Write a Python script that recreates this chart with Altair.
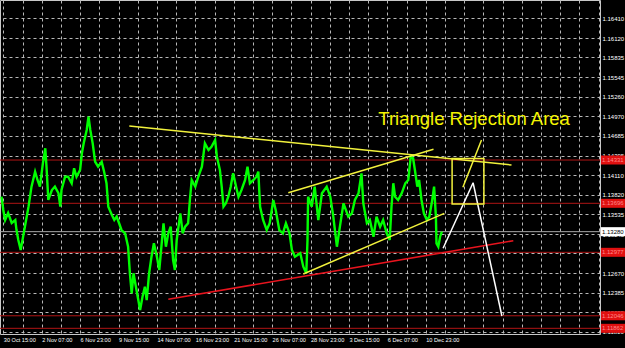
import altair as alt
import pandas as pd

# ---------------- data ----------------
# bar index (H1 bars, 0 = 30 Oct 15:00) and price of the green price trace
bars = [-3, 0, 3, 8, 14, 20, 22, 25, 29, 32, 36, 42, 47, 53, 57, 61, 66, 70, 72, 75,
        81, 86, 92, 95, 97, 103, 108, 114, 118, 122, 128, 131, 134, 139, 142, 145, 149, 153, 158, 164,
        168, 172, 175, 181, 185, 189, 193, 197, 203, 208, 211, 214, 217, 221, 225, 228, 232, 236, 239, 243,
        247, 251, 256, 260, 264, 267, 271, 275, 279, 283, 286, 289, 295, 299, 303, 308, 311, 314, 320, 325,
        331, 336, 342, 347, 353, 356, 361, 364, 367, 371, 375, 379, 383, 388, 392, 397, 403, 407, 411, 417,
        422, 425, 428, 433, 439, 444, 450, 454, 460, 466, 471, 477, 481, 486, 495, 500, 505, 507, 508, 514,
        519, 525, 531, 539, 545, 550, 556, 561, 567, 575, 581, 586, 592, 597, 600, 606, 611, 617, 622, 628,
        633, 639, 644, 647, 650, 653, 658, 664, 670, 675, 679, 683, 686, 690, 693, 697, 701, 706, 710, 714,
        718, 721, 722, 725, 728, 731]
prices = [1.13793, 1.13598, 1.13451, 1.13554, 1.13407, 1.13451, 1.13304, 1.13158, 1.13011, 1.13158,
          1.13353, 1.13646, 1.13940, 1.14160, 1.14038, 1.13940, 1.14283, 1.14503, 1.14233, 1.13745,
          1.13891, 1.13940, 1.13843, 1.13646, 1.13891, 1.14086, 1.14086, 1.13990, 1.14210, 1.14086,
          1.14185, 1.14430, 1.14576, 1.14771, 1.14967, 1.14771, 1.14576, 1.14306, 1.14233, 1.14306,
          1.14160, 1.13990, 1.13646, 1.13524, 1.13451, 1.13500, 1.13403, 1.13304, 1.13256, 1.13059,
          1.12669, 1.12376, 1.12669, 1.12473, 1.12277, 1.12131, 1.12326, 1.12473, 1.12277, 1.12669,
          1.12913, 1.13109, 1.12913, 1.12718, 1.13109, 1.13403, 1.13059, 1.13256, 1.13353, 1.12864,
          1.12718, 1.13158, 1.13549, 1.13256, 1.13353, 1.13403, 1.13745, 1.14038, 1.13940, 1.14086,
          1.14233, 1.14576, 1.14478, 1.14526, 1.14625, 1.14380, 1.14185, 1.13940, 1.13646, 1.13696,
          1.13793, 1.13940, 1.14136, 1.13940, 1.13793, 1.13891, 1.14038, 1.14233, 1.13990, 1.14038,
          1.14086, 1.14160, 1.13646, 1.13451, 1.13304, 1.13403, 1.13745, 1.13598, 1.13304, 1.13256,
          1.13403, 1.13256, 1.13011, 1.12913, 1.12963, 1.12766, 1.12669, 1.13158, 1.13793, 1.13646,
          1.13940, 1.13451, 1.13843, 1.13940, 1.13793, 1.13500, 1.13059, 1.13353, 1.13696, 1.13500,
          1.13549, 1.13745, 1.13843, 1.14136, 1.13696, 1.13403, 1.13451, 1.13206, 1.13500, 1.13353,
          1.13451, 1.13256, 1.13158, 1.13646, 1.13990, 1.13793, 1.13745, 1.13843, 1.13990, 1.14038,
          1.14380, 1.14356, 1.14185, 1.13940, 1.14038, 1.13745, 1.13549, 1.13451, 1.13500, 1.13696,
          1.13940, 1.13500, 1.13109, 1.13059, 1.13206, 1.13280]

# axis ticks
x_label_bars = [0, 64, 128, 192, 256, 320, 384, 448, 512, 576, 640, 704]
x_labels = ['30 Oct 15:00', '2 Nov 07:00', '6 Nov 23:00', '9 Nov 15:00', '14 Nov 07:00',
            '16 Nov 23:00', '21 Nov 15:00', '26 Nov 07:00', '28 Nov 23:00', '3 Dec 15:00',
            '6 Dec 07:00', '10 Dec 23:00']
x_grid_bars = list(range(0, 993, 32))
y_ticks = [1.16410, 1.16120, 1.15835, 1.15545, 1.15260, 1.14970, 1.14685, 1.14395, 1.14110,
           1.13820, 1.13535, 1.13245, 1.12960, 1.12670, 1.12385, 1.12095, 1.11810]

# horizontal price levels (red) and the current price
level_prices = [1.14331, 1.13696, 1.12977, 1.12046, 1.11862]
current_price = [1.13280]

# drawn objects
yellow_b1 = [210, 475, 500, 766]
yellow_p1 = [1.14830, 1.13852, 1.12659, 1.13931]
yellow_b2 = [847, 717, 735, 797]
yellow_p2 = [1.14258, 1.14488, 1.13549, 1.14625]
white_b1 = [733, 783]
white_p1 = [1.13036, 1.13998]
white_b2 = [783, 831]
white_p2 = [1.13998, 1.12043]
red_b1 = [275]
red_p1 = [1.12288]
red_b2 = [850]
red_p2 = [1.13147]
box_b1 = [748]
box_p1 = [1.13686]
box_b2 = [801]
box_p2 = [1.14353]
note_bar = [625]
note_price = [1.14845]
note_text = ['Triangle Rejection Area']

x_domain = [-5.5, 994.5]
y_domain = [1.117787, 1.166785]

# ---------------- chart ----------------
label_expr = "''"
for b, t in reversed(list(zip(x_label_bars, x_labels))):
    label_expr = f"datum.value == {b} ? '{t}' : ({label_expr})"

xs = alt.Scale(domain=x_domain, zero=False, nice=False)
ys = alt.Scale(domain=y_domain, zero=False, nice=False)
grid_style = dict(grid=True, gridColor="#b8b8b8", gridDash=[3, 3], gridWidth=1,
                  domain=False, ticks=False, title=None)
x_axis = alt.Axis(values=x_grid_bars, labelExpr=label_expr, labelOverlap=False,
                  labelFlush=False, labelAlign="left", labelPadding=3, labelOffset=0,
                  labelBaseline="top", labelFontSize=5.6, **grid_style)
y_axis = alt.Axis(values=y_ticks, orient="right", format=".5f", labelOverlap=False,
                  labelAlign="left", labelPadding=2, labelBaseline="middle",
                  labelFontSize=6, **grid_style)


def X(f):
    return alt.X(f, type="quantitative", scale=xs, axis=x_axis)


def Y(f):
    return alt.Y(f, type="quantitative", scale=ys, axis=y_axis)


price_df = pd.DataFrame({"bar": bars, "price": prices})
lvl_df = pd.DataFrame({"price": level_prices,
                       "label": [f"{p:.5f}" for p in level_prices]})
cur_df = pd.DataFrame({"price": current_price,
                       "label": [f"{p:.5f}" for p in current_price]})
yel_df = pd.DataFrame({"b1": yellow_b1, "p1": yellow_p1, "b2": yellow_b2, "p2": yellow_p2})
wht_df = pd.DataFrame({"b1": white_b1, "p1": white_p1, "b2": white_b2, "p2": white_p2})
red_df = pd.DataFrame({"b1": red_b1, "p1": red_p1, "b2": red_b2, "p2": red_p2})
box_df = pd.DataFrame({"b1": box_b1, "p1": box_p1, "b2": box_b2, "p2": box_p2})
note_df = pd.DataFrame({"bar": note_bar, "price": note_price, "text": note_text})

levels = alt.Chart(lvl_df).mark_rule(color="#b01414", strokeWidth=1).encode(y=Y("price"))
current = alt.Chart(cur_df).mark_rule(color="#a8a8a8", strokeWidth=1).encode(y=Y("price"))

green = alt.Chart(price_df).mark_line(color="#00ff00", strokeWidth=2.4).encode(
    x=X("bar"), y=Y("price"), order="bar:Q")


def seg(df, color, width):
    return alt.Chart(df).mark_rule(color=color, strokeWidth=width).encode(
        x=X("b1"), x2="b2", y=Y("p1"), y2="p2")


yellow = seg(yel_df, "#f2f23c", 1.5)
white = seg(wht_df, "#ffffff", 1.5)
redline = seg(red_df, "#e8141e", 1.6)
box = alt.Chart(box_df).mark_rect(fillOpacity=0, stroke="#f2f23c", strokeWidth=1.5).encode(
    x=X("b1"), x2="b2", y=Y("p1"), y2="p2")
note = alt.Chart(note_df).mark_text(color="#f4f400", font="Liberation Sans", fontSize=18.5,
                                    align="left", baseline="alphabetic").encode(
    x=X("bar"), y=Y("price"), text="text")

lvl_box = alt.Chart(lvl_df).mark_rule(color="#e01010", strokeWidth=9, strokeCap="butt").encode(
    x=alt.value(601), x2=alt.value(625), y=Y("price"))
lvl_txt = alt.Chart(lvl_df).mark_text(color="#ff8a8a", font="Liberation Sans", fontSize=6,
                                      align="left", baseline="middle").encode(
    x=alt.value(602), y=Y("price"), text="label")
cur_box = alt.Chart(cur_df).mark_rule(color="#ffffff", strokeWidth=9, strokeCap="butt").encode(
    x=alt.value(601), x2=alt.value(625), y=Y("price"))
cur_txt = alt.Chart(cur_df).mark_text(color="#000000", font="Liberation Sans", fontSize=6,
                                      align="left", baseline="middle").encode(
    x=alt.value(602), y=Y("price"), text="label")

chart = alt.layer(
    levels, current, green, redline, yellow, white, box, note,
    lvl_box, lvl_txt, cur_box, cur_txt
).properties(
    width=600, height=334,
    autosize=alt.AutoSizeParams(type="none"),
    padding={"left": 0, "top": 0, "right": 25, "bottom": 14},
    background="#000000",
).configure_view(
    fill="#000000", stroke="#c8c8c8", strokeWidth=1
).configure_axis(
    labelColor="#ffffff", labelFont="Liberation Sans"
)

chart.save("out.html", embed_options={"renderer": "svg", "actions": False})
